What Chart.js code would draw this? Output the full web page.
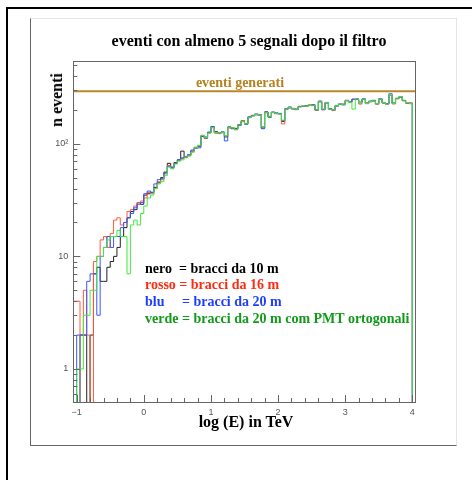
<!DOCTYPE html>
<html><head><meta charset="utf-8">
<script src="https://cdn.jsdelivr.net/npm/chart.js@4.4.0/dist/chart.umd.min.js"></script>
<style>
html,body{margin:0;padding:0;background:#fff;}
body{width:472px;height:480px;position:relative;overflow:hidden;}
#outer{position:absolute;left:6px;top:7px;width:600px;height:600px;border-left:2px solid #000;border-top:2px solid #000;}
#panel{position:absolute;left:30px;top:18px;width:427px;height:428px;border-left:1px solid #666;border-bottom:1px solid #666;border-top:1px solid #e4e4e4;border-right:1px solid #e4e4e4;box-sizing:border-box;}
#c{position:absolute;left:0;top:0;}
.t{position:absolute;font-family:'Liberation Serif','Times New Roman',serif;font-weight:bold;white-space:pre;line-height:1;}
.c{transform:translate(-50%,-50%);}
.l{transform:translateY(-50%);font-size:14px;}
</style></head><body>
<div id="outer"></div>
<div id="panel"></div>
<canvas id="c" width="472" height="480"></canvas>
<div class="t c" style="left:249px;top:41px;font-size:16px;color:#000;">eventi con almeno 5 segnali dopo il filtro</div>
<div class="t c" style="left:57px;top:100px;font-size:16px;color:#000;transform:translate(-50%,-50%) rotate(-90deg);">n eventi</div>
<div class="t c" style="left:246px;top:422px;font-size:16px;color:#000;">log (E) in TeV</div>
<div class="t c" style="left:240px;top:83px;font-size:14px;color:#b5821f;">eventi generati</div>
<div class="t l" style="left:145px;top:269px;color:#000;">nero  = bracci da 10 m</div>
<div class="t l" style="left:145px;top:285px;color:#ff2a10;">rosso = bracci da 16 m</div>
<div class="t l" style="left:145px;top:302px;color:#1f3dff;">blu     = bracci da 20 m</div>
<div class="t l" style="left:145px;top:319px;color:#119a1a;">verde = bracci da 20 m com PMT ortogonali</div>
<script>
// histogram binning (bin low edge of first bin, bin width)
const binStart = -1.05;
const binWidth = 0.05;

const nero = [0,0,2,2,0,2,7,8,6,6,8,9,10,12,15,18,22,25,26,30,29,
35,36,37,41,45,50,56,67,62,68,72,86,76,79,86,93,95,116,112,126,142,128,125,127,115,
141,136,137,148,160,149,172,178,182,181,138,192,172,191,185,185,158,205,208,206,201,
214,215,217,219,222,198,238,202,230,205,199,219,223,224,243,234,248,248,234,249,230,
238,243,226,250,230,227,268,230,252,260,243,230,229,0];

const rosso = [4,4,2,5,2,0,9,10,14,15,12,16,21,22,19,20,25,26,28,30,31,
33,37,36,40,46,48,54,64,61,67,71,74,77,78,85,92,96,119,113,125,139,124,126,125,117,
138,139,133,146,160,151,171,179,180,182,142,188,175,189,187,183,150,204,211,203,202,
213,217,214,222,218,199,234,200,231,202,197,215,224,225,240,233,247,251,225,248,229,
235,239,225,248,231,224,269,226,250,263,240,229,231,0];

const blu = [0,2,2,2,6,7,7,3,10,12,15,12,15,15,18,20,22,24,27,29,30,
36,38,37,44,48,49,55,63,61,67,72,75,76,80,88,91,92,117,115,127,141,126,123,127,106,
140,137,135,145,157,150,173,177,184,179,136,191,174,190,188,186,161,202,212,204,204,
215,214,218,219,221,201,239,201,233,204,200,217,226,221,242,235,249,249,231,251,227,
239,240,227,251,233,226,278,227,253,261,242,231,227,0];

const verde = [0,1,1,3,3,5,5,10,10,12,14,15,15,17,15,15,7,19,21,19,24,
28,33,35,40,44,46,52,62,60,66,70,72,75,78,84,92,97,118,114,124,140,126,124,126,118,
140,138,134,147,158,150,170,176,182,180,141,190,173,190,186,184,162,203,210,205,203,
212,216,216,218,220,200,236,203,232,203,200,218,225,222,241,232,203,250,232,250,228,
237,241,228,250,232,225,271,228,254,262,241,232,228,0];

// "eventi generati" reference level
const generatiX = [-1.05, 4.05];
const generatiY = [292, 292];

// axis ticks
const xMajor = [-1, 0, 1, 2, 3, 4];
const yMajor = [1, 10, 100];
const yLabels = {1: '1', 10: '10', 100: '10\u00B2'};
const yMin = 0.509, yMax = 543;

// empty bins are drawn down past the bottom of the log axis (clipped), as ROOT does
function hist(arr) {
  const floor = yMin / 100;
  const pts = arr.map((v, j) => ({x: +(binStart + j * binWidth).toFixed(4), y: v > 0 ? v : floor}));
  const last = arr[arr.length - 1];
  pts.push({x: +(binStart + arr.length * binWidth).toFixed(4), y: last > 0 ? last : floor});
  return pts;
}

const framePlugin = {
  id: 'frame',
  afterDraw(chart) {
    const {ctx, chartArea: a, scales: {x, y}} = chart;
    ctx.save();
    ctx.strokeStyle = '#666';
    ctx.lineWidth = 1;
    ctx.strokeRect(Math.round(a.left) + 0.5, Math.round(a.top) + 0.5, Math.round(a.right - a.left), Math.round(a.bottom - a.top));
    ctx.beginPath();
    for (let v = -1; v <= 4.0001; v += 0.2) {
      const px = Math.round(x.getPixelForValue(v)) + 0.5;
      const major = Math.abs(v - Math.round(v)) < 1e-6;
      ctx.moveTo(px, a.bottom);
      ctx.lineTo(px, a.bottom - (major ? 7 : 4));
    }
    for (let d = 0.1; d <= 1000; d *= 10) {
      for (let m = 1; m <= 9; m++) {
        const v = m * d;
        if (v < y.min || v > y.max) continue;
        const py = Math.round(y.getPixelForValue(v)) + 0.5;
        ctx.moveTo(a.left, py);
        ctx.lineTo(a.left + (m === 1 ? 7 : 4), py);
      }
    }
    ctx.stroke();
    ctx.restore();
  }
};

const mk = (label, arr, color, order) => ({
  label, data: hist(arr), borderColor: color, borderWidth: 1, stepped: 'before',
  pointRadius: 0, fill: false, order
});

new Chart(document.getElementById('c'), {
  type: 'line',
  data: {
    datasets: [
      {label: 'eventi generati', data: generatiX.map((xv, i) => ({x: xv, y: generatiY[i]})),
       borderColor: '#b8862b', borderWidth: 2, pointRadius: 0, order: -1},
      mk('verde', verde, '#3fea3f', 0),
      mk('blu', blu, '#3a55ff', 1),
      mk('rosso', rosso, '#ff5a3c', 2),
      mk('nero', nero, '#222222', 3)
    ]
  },
  options: {
    responsive: false,
    devicePixelRatio: 1,
    animation: false,
    events: [],
    layout: {padding: {top: 61, right: 56.3, left: 0, bottom: 0}},
    plugins: {legend: {display: false}, tooltip: {enabled: false}, title: {display: false}},
    scales: {
      x: {
        type: 'linear', min: -1.05, max: 4.05,
        grid: {display: false, drawTicks: false}, border: {display: false},
        afterBuildTicks: s => { s.ticks = xMajor.map(v => ({value: v})); },
        afterFit: s => { s.height = 78; },
        ticks: {padding: 5, color: '#555', font: {family: 'Liberation Sans', size: 9},
                maxRotation: 0, autoSkip: false,
                callback: v => (v < 0 ? '\u2212' + Math.abs(v) : String(v))}
      },
      y: {
        type: 'logarithmic', min: yMin, max: yMax,
        grid: {display: false, drawTicks: false}, border: {display: false},
        afterBuildTicks: s => { s.ticks = yMajor.map(v => ({value: v})); },
        afterFit: s => { s.width = 73.3; },
        ticks: {padding: 5, color: '#555', font: {family: 'Liberation Sans', size: 9},
                autoSkip: false, callback: v => yLabels[v] || ''}
      }
    }
  },
  plugins: [framePlugin]
});
</script>
</body></html>
